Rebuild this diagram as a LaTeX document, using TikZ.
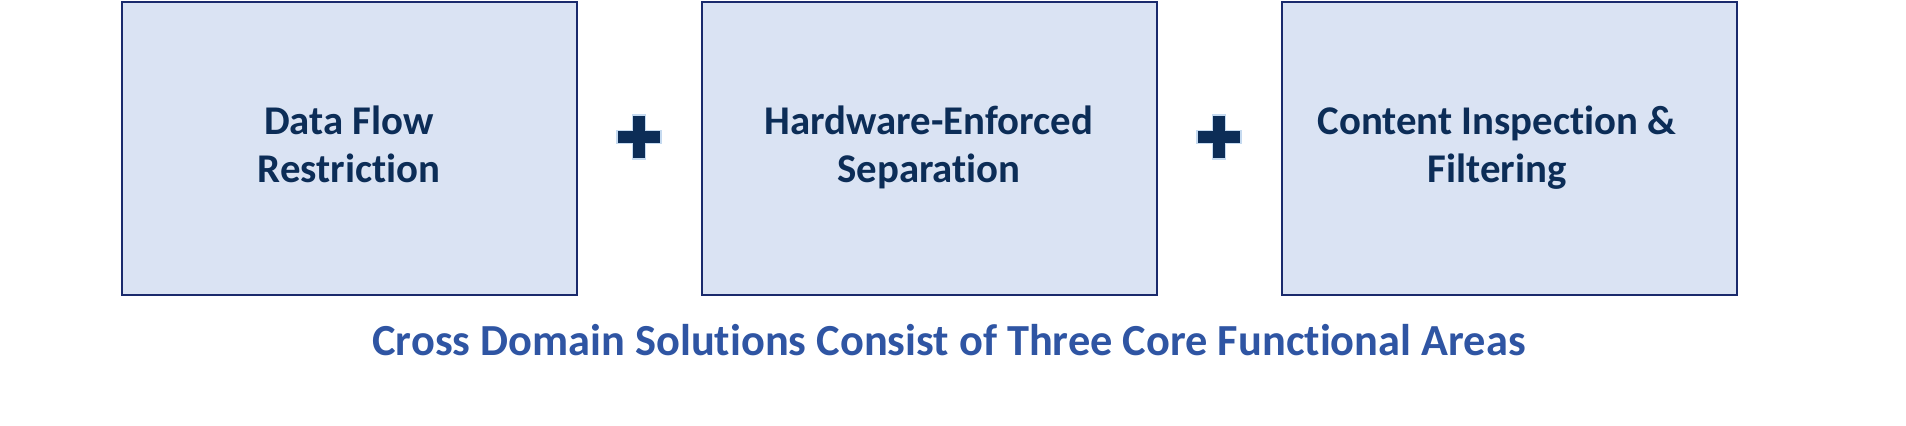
\documentclass[tikz,border=0pt]{standalone}
\usepackage{fontspec}
\setmainfont[Ligatures=NoCommon]{Carlito}
\usetikzlibrary{positioning, calc}

\definecolor{boxfill}{HTML}{DAE3F3}
\definecolor{boxedge}{HTML}{1A2A6C}
\definecolor{textnavy}{HTML}{0C2D57}
\definecolor{titleblue}{HTML}{2F55A3}
\definecolor{plusedge}{HTML}{C5DAF0}

\newcommand{\twolines}[2]{\raisebox{4.5pt}{\begin{tabular}{@{}c@{}}#1\\#2\end{tabular}}}

\tikzset{
  pics/plussign/.style={code={
    \filldraw[fill=textnavy, draw=plusedge, line width=0.7pt]
      (-11pt,-3.25pt) -- (-3.25pt,-3.25pt) -- (-3.25pt,-11pt) -- (3.25pt,-11pt)
      -- (3.25pt,-3.25pt) -- (11pt,-3.25pt) -- (11pt,3.25pt) -- (3.25pt,3.25pt)
      -- (3.25pt,11pt) -- (-3.25pt,11pt) -- (-3.25pt,3.25pt) -- (-11pt,3.25pt) -- cycle;
  }}
}

\begin{document}
\begin{tikzpicture}[
  node distance=62.5pt,
  areabox/.style={rectangle, draw=boxedge, fill=boxfill, line width=1pt,
    minimum width=227.5pt, minimum height=146.5pt, outer sep=0pt,
    text=textnavy, font=\bfseries\fontsize{20.4}{24}\selectfont},
  caption/.style={text=titleblue, font=\bfseries\fontsize{22.2}{27}\selectfont}
]
\useasboundingbox (0,0) rectangle (953pt,-213pt);

% the three functional areas
\node[areabox] (flow) at (174.5pt,-74.5pt) {\twolines{Data Flow}{Restriction}};
\node[areabox, right=of flow] (separation) {\twolines{Hardware-Enforced}{Separation}};
\node[areabox, right=of separation] (inspection) {\twolines{Content Inspection \&}{Filtering}\kern12pt};

% plus signs between the boxes
\path ($(flow.east)!0.5!(separation.west)+(0,6pt)$) pic {plussign};
\path ($(separation.east)!0.5!(inspection.west)+(0,6pt)$) pic {plussign};

% caption
\node[caption] (title) at ($(separation.south)+(10pt,-22.5pt)$) {Cross Domain Solutions Consist of Three Core Functional Areas};

\end{tikzpicture}
\end{document}
